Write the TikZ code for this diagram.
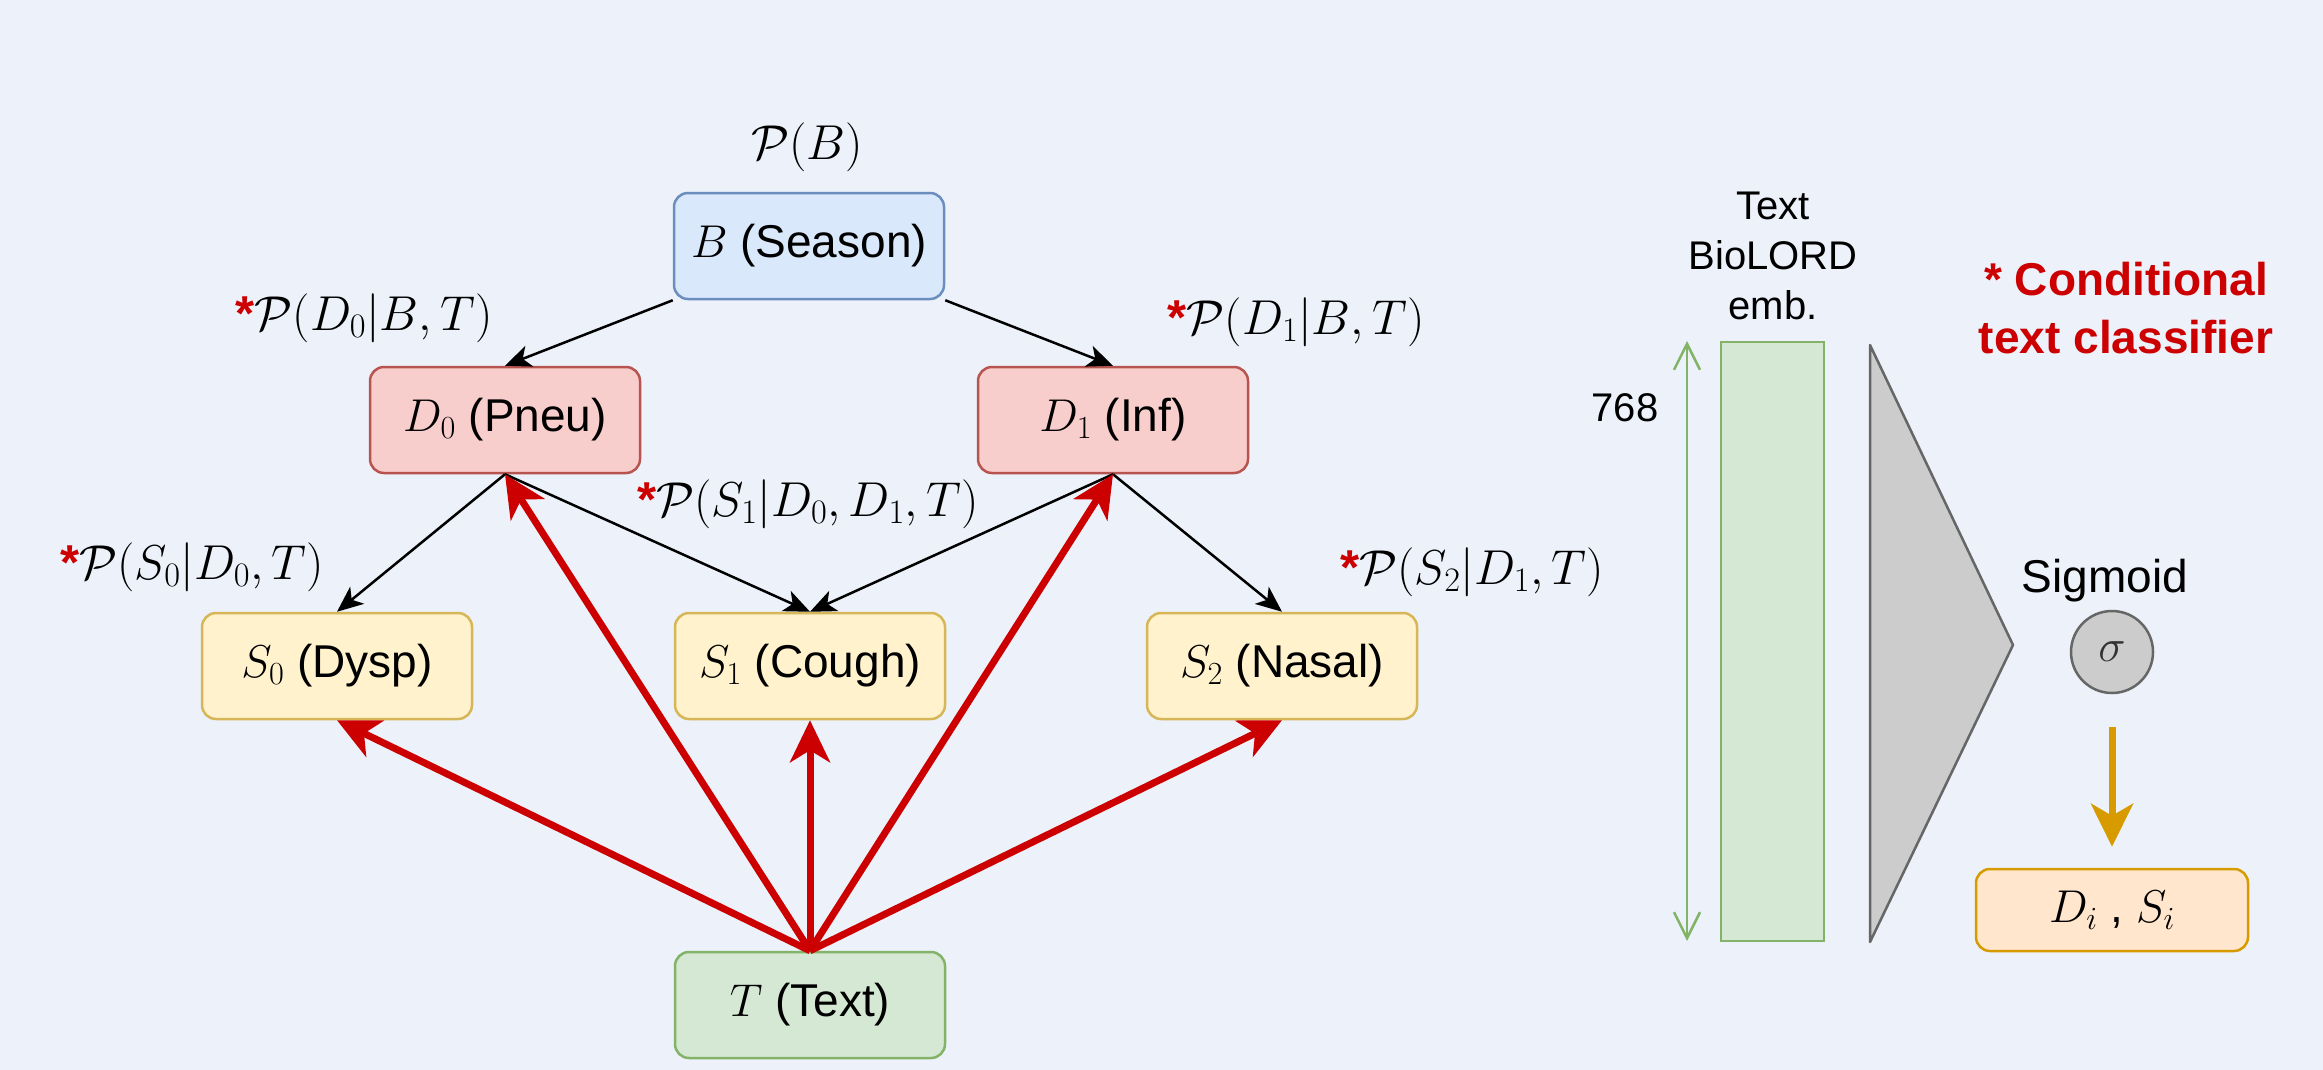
\documentclass[tikz,border=0pt]{standalone}
\usepackage{fix-cm}
\usepackage[no-math]{fontspec}
\setmainfont{Liberation Sans}
\usetikzlibrary{arrows.meta}

\definecolor{bgcol}{HTML}{ECF1FA}
\definecolor{bfill}{HTML}{DAE8FC}\definecolor{bdraw}{HTML}{6C8EBF}
\definecolor{rfill}{HTML}{F8CECC}\definecolor{rdraw}{HTML}{B85450}
\definecolor{yfill}{HTML}{FFF2CC}\definecolor{ydraw}{HTML}{D6B656}
\definecolor{gfill}{HTML}{D5E8D4}\definecolor{gdraw}{HTML}{82B366}
\definecolor{ofill}{HTML}{FFE6CC}\definecolor{odraw}{HTML}{D79B00}
\definecolor{grfill}{HTML}{CCCCCC}\definecolor{grdraw}{HTML}{666666}
\definecolor{starred}{HTML}{CC0000}

\newcommand{\bigfont}{\fontsize{46}{55}\selectfont}
\newcommand{\labelfont}{\fontsize{49}{58}\selectfont}
\newcommand{\smallfont}{\fontsize{40}{50}\selectfont}
\newcommand{\rstar}{\textcolor{starred}{\bfseries *}}

\tikzset{
  varbox/.style={rounded corners=14pt, line width=2.5pt, minimum width=270pt,
    minimum height=106pt, inner sep=0pt, font=\bigfont},
  blue box/.style={varbox, fill=bfill, draw=bdraw},
  red box/.style={varbox, fill=rfill, draw=rdraw},
  yellow box/.style={varbox, fill=yfill, draw=ydraw},
  green box/.style={varbox, fill=gfill, draw=gdraw},
  problabel/.style={inner sep=0pt, font=\labelfont},
  dep/.style={line width=2.5pt, -{Stealth[length=26pt,width=22pt,inset=7pt]}},
  textdep/.style={line width=7pt, draw=starred,
    -{Stealth[length=42pt,width=40pt,inset=12pt]}},
}

\begin{document}
\begin{tikzpicture}[x=1pt,y=-1pt]
% canvas
\fill[bgcol] (0,0) rectangle (2323,1070);
\useasboundingbox (0,0) rectangle (2323,1070);

% ---------- Bayesian network ----------
\node[blue box]   (B)  at (809,246)  {$B$ (Season)};
\node[red box]    (D0) at (505,420)  {$D_0$ (Pneu)};
\node[red box]    (D1) at (1113,420) {$D_1$ (Inf)};
\node[yellow box] (S0) at (337,666)  {$S_0$ (Dysp)};
\node[yellow box] (S1) at (810,666)  {$S_1$ (Cough)};
\node[yellow box] (S2) at (1282,666) {$S_2$ (Nasal)};
\node[green box]  (T)  at (810,1005) {$T$ (Text)};

% probability labels
\node[problabel] (pB)  at (807,147)  {$\mathcal{P}(B)$};
\node[problabel] (pD0) at (364,318)  {\rstar$\mathcal{P}(D_0|B,T)$};
\node[problabel] (pD1) at (1296,322) {\rstar$\mathcal{P}(D_1|B,T)$};
\node[problabel] (pS1) at (808,504)  {\rstar$\mathcal{P}(S_1|D_0,D_1,T)$};
\node[problabel] (pS0) at (192,567)  {\rstar$\mathcal{P}(S_0|D_0,T)$};
\node[problabel] (pS2) at (1472,572) {\rstar$\mathcal{P}(S_2|D_1,T)$};

% causal dependencies
\draw[dep] (B.south west) -- (D0.north);
\draw[dep] (B.south east) -- (D1.north);
\draw[dep] (D0.south) -- (S0.north);
\draw[dep] (D0.south) -- (S1.north);
\draw[dep] (D1.south) -- (S1.north);
\draw[dep] (D1.south) -- (S2.north);

% conditioning on the text
\draw[textdep] (T.north) -- (S0.south);
\draw[textdep] (T.north) -- (D0.south);
\draw[textdep] (T.north) -- (S1.south);
\draw[textdep] (T.north) -- (D1.south);
\draw[textdep] (T.north) -- (S2.south);

% ---------- classifier ----------
\node[inner sep=0pt, align=center, anchor=north, font=\smallfont]
  (embtitle) at (1773,192) {Text\\BioLORD\\emb.};
\node[inner sep=0pt, font=\smallfont] (dim) at (1625,408) {768};
\coordinate (dimtop) at (1687,341);
\coordinate (dimbot) at (1687,941);
\draw[line width=2.5pt, draw=gdraw,
  {Straight Barb[length=26pt,width=26pt]}-{Straight Barb[length=26pt,width=26pt]}]
  (dimtop) -- (dimbot);
\node[fill=gfill, draw=gdraw, line width=2.5pt, minimum width=103pt,
  minimum height=599pt, inner sep=0pt] (emb) at (1772.5,641.5) {};

% dense layer
\draw[fill=grfill, draw=grdraw, line width=2.5pt, line join=round]
  (1870,345) -- (2013,645) -- (1870,942) -- cycle;

\node[inner sep=0pt, align=center, anchor=north, text=starred,
  font=\fontsize{46}{58}\selectfont\bfseries]
  (title) at (2126,262) {* Conditional\\text classifier};

\node[inner sep=0pt, anchor=base, font=\bigfont] (sigtxt) at (2105,592) {Sigmoid};
\node[circle, fill=grfill, draw=grdraw, line width=2.5pt, minimum size=82pt,
  inner sep=0pt, font=\bigfont, text=black!80] (sig) at (2112,652) {$\sigma$};
\node[rounded corners=14pt, fill=ofill, draw=odraw, line width=2.5pt,
  minimum width=272pt, minimum height=82pt, inner sep=0pt, font=\bigfont]
  (out) at (2112,910) {$D_i$ , $S_i$};
\draw[line width=7pt, draw=odraw, shorten <=33pt, shorten >=21pt,
  -{Stealth[length=43pt,width=42pt,inset=12pt]}] (sig.south) -- (out.north);
\end{tikzpicture}
\end{document}
